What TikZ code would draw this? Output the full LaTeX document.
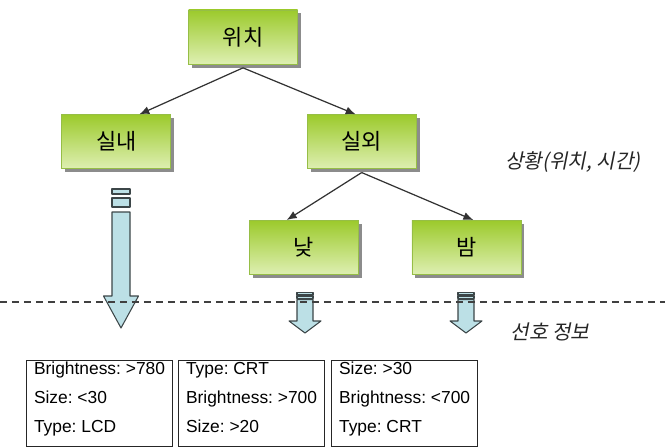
\documentclass[tikz,border=0pt]{standalone}
\usepackage{fontspec}
\setmainfont{Liberation Sans}
\newfontfamily\krfont{Noto Sans CJK KR}
\newfontfamily\krslant[FakeSlant=0.2]{Noto Sans CJK KR}
\definecolor{leaftop}{RGB}{156, 202, 44}
\definecolor{leafbottom}{RGB}{222, 239, 178}
\definecolor{leafedge}{RGB}{150, 190, 70}
\definecolor{flowfill}{RGB}{188, 224, 230}
\definecolor{flowedge}{RGB}{60, 70, 72}
\usetikzlibrary{arrows.meta, positioning, shadows}
\frenchspacing

\begin{document}
\begin{tikzpicture}[
        cat/.style={rectangle, draw=leafedge, thin, top color=leaftop, bottom color=leafbottom,
            minimum width=2.18cm, minimum height=1.08cm, font=\krfont\fontsize{12.5}{14}\selectfont,
            drop shadow={shadow xshift=0.07cm, shadow yshift=-0.07cm, fill=black, opacity=0.45}},
        note/.style={font=\krslant\fontsize{11.5}{13}\selectfont, text=black!85},
        prefbox/.style={rectangle, draw=black!85, line width=0.6pt, align=left, minimum width=2.92cm,
            minimum height=1.72cm, inner xsep=0.1cm, inner ysep=0.02cm, font=\fontsize{9.9}{16.5}\selectfont,
            execute at end node={\rule[-0.25cm]{0pt}{0pt}}},
        link/.style={-{Latex[length=2mm, width=1.6mm]}, line width=0.7pt, black!80},
        flow/.style={draw=flowedge, fill=flowfill, line width=0.6pt, line join=round},
        cut/.style={dashed, dash pattern=on 0.15cm off 0.09cm, line width=0.8pt, black!75}
    ]
        \useasboundingbox (0,0) rectangle (13.3,8.94);

        % context tree
        \node[cat] (loc) at (4.86,8.20) {위치};
        \node[cat, below left=1.0cm and 0.34cm of loc] (indoor) {실내};
        \node[cat, below right=1.0cm and 0.18cm of loc] (outdoor) {실외};
        \node[cat, below=1.02cm of outdoor, xshift=-1.16cm] (day) {낮};
        \node[cat, right=1.06cm of day] (night) {밤};

        \node[note] (sit) at (11.46,5.70) {상황(위치, 시간)};
        \node[note] (pref) at (11.0,2.30) {선호 정보};

        % preference boxes
        \node[prefbox, anchor=north west] (prefin) at (0.52,1.74) {Brightness: >780\\Size: <30\\Type: LCD};
        \node[prefbox, right=0.1cm of prefin] (prefday) {Type: CRT\\Brightness: >700\\Size: >20};
        \node[prefbox, right=0.12cm of prefday] (prefnight) {Size: >30\\Brightness: <700\\Type: CRT};

        \draw[link] ([yshift=-0.07cm]loc.south) -- ([xshift=0.46cm]indoor.north);
        \draw[link] ([yshift=-0.07cm]loc.south) -- ([xshift=-0.12cm]outdoor.north);
        \draw[link] ([yshift=-0.07cm]outdoor.south) -- ([xshift=-0.34cm]day.north);
        \draw[link] ([yshift=-0.07cm]outdoor.south) -- ([xshift=0.14cm]night.north);

        % block arrows
        \draw[flow] (2.24,5.06) rectangle (2.60,5.16);
        \draw[flow] (2.24,4.80) rectangle (2.60,4.98);
        \draw[flow] (2.24,4.70) -- (2.24,3.02) -- (2.07,3.02) -- (2.42,2.38) -- (2.77,3.02) -- (2.60,3.02) -- (2.60,4.70) -- cycle;

        \draw[flow] (5.94,3.04) rectangle (6.26,3.09);
        \draw[flow] (5.94,2.97) rectangle (6.26,3.02);
        \draw[flow] (5.94,2.95) -- (5.94,2.52) -- (5.78,2.52) -- (6.10,2.28) -- (6.42,2.52) -- (6.26,2.52) -- (6.26,2.95) -- cycle;

        \draw[flow] (9.16,3.04) rectangle (9.48,3.09);
        \draw[flow] (9.16,2.97) rectangle (9.48,3.02);
        \draw[flow] (9.16,2.95) -- (9.16,2.52) -- (9.00,2.52) -- (9.32,2.28) -- (9.64,2.52) -- (9.48,2.52) -- (9.48,2.95) -- cycle;

        \draw[cut] (0,2.90) -- (13.3,2.90);
    \end{tikzpicture}
\end{document}
